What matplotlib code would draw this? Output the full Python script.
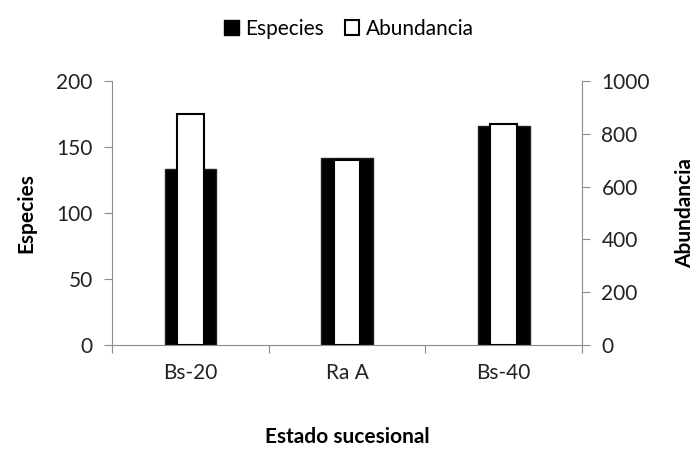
import numpy as np
import matplotlib.pyplot as plt
from matplotlib.patches import Patch

plt.rcParams['font.family'] = ['Lato', 'DejaVu Sans']

estados = ['Bs-20', 'Ra A', 'Bs-40']
especies = [133, 142, 166]
abundancia = [875, 700, 837]

x = np.arange(len(estados))
gris = '#8c8c8c'

fig = plt.figure(figsize=(6.98, 4.55), dpi=100)
ax = fig.add_axes([0.1605, 0.2418, 0.6733, 0.5802])
ax2 = ax.twinx()

ax.bar(x, especies, width=0.33, color='black', edgecolor='#222222', linewidth=1)
ax2.bar(x, abundancia, width=0.17, color='white', edgecolor='black', linewidth=1.5)

ax.set_xlim(-0.5, 2.5)
ax.set_ylim(0, 200)
ax2.set_ylim(0, 1000)
ax.set_yticks([0, 50, 100, 150, 200])
ax2.set_yticks([0, 200, 400, 600, 800, 1000])

# ticks on the category boundaries, labels centred
ax.set_xticks([-0.5, 0.5, 1.5, 2.5])
ax.set_xticklabels([])
ax.set_xticks(x, minor=True)
ax.set_xticklabels(estados, minor=True)
ax.tick_params(axis='x', which='minor', length=0, pad=13, labelsize=15, labelcolor='#222222')
ax.tick_params(axis='x', which='major', length=6, color=gris, direction='out')

for a in (ax, ax2):
    for s in a.spines.values():
        s.set_visible(False)
    a.tick_params(axis='y', length=6, color=gris, labelsize=15, pad=8, labelcolor='#222222')
ax.spines['left'].set_visible(True)
ax.spines['bottom'].set_visible(True)
ax2.spines['right'].set_visible(True)
for s in (ax.spines['left'], ax.spines['bottom'], ax2.spines['right']):
    s.set_color(gris)

ax.set_ylabel('Especies', fontsize=15, fontweight='bold', labelpad=14)
ax2.set_ylabel('Abundancia', fontsize=15, fontweight='bold', rotation=90, labelpad=18)
ax.set_xlabel('Estado sucesional', fontsize=15, fontweight='bold', labelpad=32)

handles = [Patch(facecolor='black', edgecolor='black', label='Especies'),
           Patch(facecolor='white', edgecolor='black', linewidth=1.5, label='Abundancia')]
fig.legend(handles=handles, loc='upper center', bbox_to_anchor=(0.5, 1.0), ncol=2,
           frameon=False, fontsize=15, handlelength=0.7, handleheight=0.7,
           handletextpad=0.3, columnspacing=1.0)

fig.savefig('out.png', dpi=100)
